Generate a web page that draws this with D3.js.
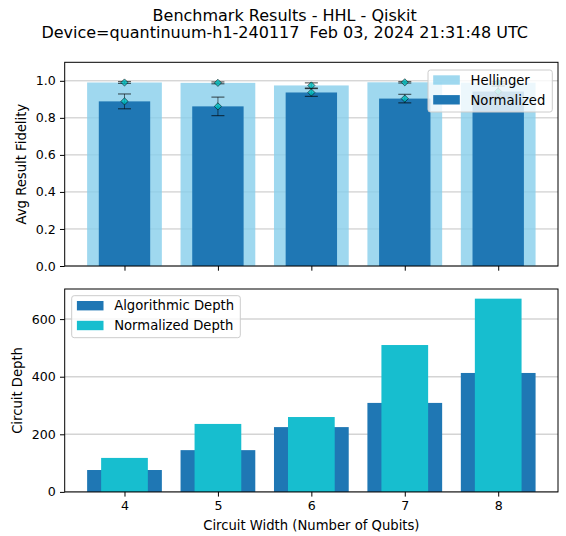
<!DOCTYPE html>
<html>
<head>
<meta charset="utf-8">
<script src="https://cdn.jsdelivr.net/npm/d3@7"></script>
<style>
  html, body { margin: 0; padding: 0; background: #fff; }
  svg { display: block; font-family: "DejaVu Sans", sans-serif; }
  text { white-space: pre; }
</style>
</head>
<body>
<svg id="chart" width="566" height="536"></svg>
<script>
// ---- data ----
const qubits = [4, 5, 6, 7, 8];
const hellingerFidelity = [0.991, 0.989, 0.975, 0.992, 0.990];
const hellingerStd = [0.005, 0.005, 0.014, 0.004, 0.005];
const normalizedFidelity = [0.889, 0.862, 0.937, 0.904, 0.942];
const normalizedStd = [0.040, 0.050, 0.021, 0.023, 0.030];
const algorithmicDepth = [76, 145, 225, 309, 413];
const normalizedDepth = [118, 236, 260, 510, 671];
const fidelityTicks = [0, 0.2, 0.4, 0.6, 0.8, 1.0];
const depthTicks = [0, 200, 400, 600];
const titleLines = ["Benchmark Results - HHL - Qiskit",
  "Device=quantinuum-h1-240117  Feb 03, 2024 21:31:48 UTC"];

const svg = d3.select("#chart");
const L = 64.7, R = 558;
const top1 = 62.3, bot1 = 266;
const top2 = 289, bot2 = 491.9;

const x = d3.scaleLinear().domain([3.36, 8.64]).range([L, R]);
const unit = x(5) - x(4);
const y1 = d3.scaleLinear().domain([0, 1.1]).range([bot1, top1]);
const y2 = d3.scaleLinear().domain([0, d3.max(normalizedDepth) * 1.05]).range([bot2, top2]);

const C0 = "#1f77b4", C9 = "#17becf", SKY = "#87ceeb";
const tickFont = 12.6, labelFont = 13.2;

// title
svg.selectAll("text.title").data(titleLines).enter().append("text")
  .attr("x", 284.7).attr("y", (d, i) => 21 + i * 17.2)
  .attr("text-anchor", "middle").attr("font-size", 16).attr("fill", "#000")
  .attr("xml:space", "preserve")
  .text(d => d);

function drawGrid(g, y, ticks, color, width) {
  g.selectAll("line.grid").data(ticks).enter().append("line")
    .attr("x1", L).attr("x2", R)
    .attr("y1", d => y(d)).attr("y2", d => y(d))
    .attr("stroke", color).attr("stroke-width", width);
}

function drawAxes(g, y, ticks, fmt, top, bot, showXLabels) {
  const ay = g.append("g").attr("transform", `translate(${L},0)`)
    .call(d3.axisLeft(y).tickValues(ticks).tickFormat(fmt).tickSize(4.7).tickPadding(4.2));
  ay.select(".domain").remove();
  ay.selectAll("text").attr("font-size", tickFont).attr("fill", "#000").attr("font-family", "DejaVu Sans");
  ay.selectAll("line").attr("stroke", "#000").attr("stroke-width", 1);
  const ax = g.append("g").attr("transform", `translate(0,${bot})`)
    .call(d3.axisBottom(x).tickValues(qubits).tickFormat(showXLabels ? d3.format("d") : "").tickSize(4.7).tickPadding(4.5));
  ax.select(".domain").remove();
  ax.selectAll("text").attr("font-size", tickFont).attr("fill", "#000").attr("font-family", "DejaVu Sans");
  ax.selectAll("line").attr("stroke", "#000").attr("stroke-width", 1);
  g.append("rect").attr("x", L).attr("y", top).attr("width", R - L).attr("height", bot - top)
    .attr("fill", "none").attr("stroke", "#000").attr("stroke-width", 1);
}

function drawLegend(g, x0, y0, w, h, items) {
  const lg = g.append("g");
  lg.append("rect").attr("x", x0).attr("y", y0).attr("width", w).attr("height", h)
    .attr("rx", 2.5).attr("fill", "#fff").attr("fill-opacity", 0.8)
    .attr("stroke", "#cccccc").attr("stroke-width", 1);
  items.forEach((it, i) => {
    const cy = y0 + 10 + i * 19.8;
    lg.append("rect").attr("x", x0 + 5.2).attr("y", cy - 4.7).attr("width", 26.6).attr("height", 9.4)
      .attr("fill", it.color).attr("fill-opacity", it.opacity || 1);
    lg.append("text").attr("x", x0 + 42.5).attr("y", cy + 4.7).attr("font-size", labelFont)
      .attr("fill", "#000").text(it.label);
  });
}

// ---- top panel ----
const g1 = svg.append("g");
drawGrid(g1, y1, fidelityTicks, "#c4c4c4", 1);
g1.selectAll("rect.hell").data(qubits).enter().append("rect")
  .attr("x", d => x(d) - 0.4 * unit).attr("width", 0.8 * unit)
  .attr("y", (d, i) => y1(hellingerFidelity[i])).attr("height", (d, i) => bot1 - y1(hellingerFidelity[i]))
  .attr("fill", SKY).attr("fill-opacity", 0.8);
g1.selectAll("rect.norm").data(qubits).enter().append("rect")
  .attr("x", d => x(d) - 0.275 * unit).attr("width", 0.55 * unit)
  .attr("y", (d, i) => y1(normalizedFidelity[i])).attr("height", (d, i) => bot1 - y1(normalizedFidelity[i]))
  .attr("fill", C0);

function errorBars(g, vals, errs) {
  const eg = g.append("g");
  qubits.forEach((q, i) => {
    const cx = x(q), v = vals[i], e = errs[i];
    eg.append("line").attr("x1", cx).attr("x2", cx).attr("y1", y1(v - e)).attr("y2", y1(v + e))
      .attr("stroke", "#000").attr("stroke-opacity", 0.55).attr("stroke-width", 1);
    [v - e, v + e].forEach(c => {
      eg.append("line").attr("x1", cx - 6.5).attr("x2", cx + 6.5).attr("y1", y1(c)).attr("y2", y1(c))
        .attr("stroke", "#000").attr("stroke-opacity", 0.6).attr("stroke-width", 1.2);
    });
    const cy = y1(v), r = 3.6;
    eg.append("path").attr("d", `M${cx},${cy - r}L${cx + r},${cy}L${cx},${cy + r}L${cx - r},${cy}Z`)
      .attr("fill", "#00bfbf").attr("fill-opacity", 0.8)
      .attr("stroke", "#000").attr("stroke-opacity", 0.75).attr("stroke-width", 0.7);
  });
}
errorBars(g1, hellingerFidelity, hellingerStd);
errorBars(g1, normalizedFidelity, normalizedStd);
drawAxes(g1, y1, fidelityTicks, d3.format(".1f"), top1, bot1, false);
g1.append("text").attr("transform", `translate(26,${(top1 + bot1) / 2}) rotate(-90)`)
  .attr("text-anchor", "middle").attr("font-size", labelFont).text("Avg Result Fidelity");
drawLegend(g1, 428, 70, 124.3, 42, [
  { label: "Hellinger", color: SKY, opacity: 0.8 },
  { label: "Normalized", color: C0 }
]);

// ---- bottom panel ----
const g2 = svg.append("g");
drawGrid(g2, y2, depthTicks, "#d4d4d4", 1.5);
g2.selectAll("rect.algo").data(qubits).enter().append("rect")
  .attr("x", d => x(d) - 0.4 * unit).attr("width", 0.8 * unit)
  .attr("y", (d, i) => y2(algorithmicDepth[i])).attr("height", (d, i) => bot2 - y2(algorithmicDepth[i]))
  .attr("fill", C0);
g2.selectAll("rect.ndep").data(qubits).enter().append("rect")
  .attr("x", d => x(d) - 0.25 * unit).attr("width", 0.5 * unit)
  .attr("y", (d, i) => y2(normalizedDepth[i])).attr("height", (d, i) => bot2 - y2(normalizedDepth[i]))
  .attr("fill", C9);
drawAxes(g2, y2, depthTicks, d3.format("d"), top2, bot2, true);
g2.append("text").attr("transform", `translate(21.5,${(top2 + bot2) / 2}) rotate(-90)`)
  .attr("text-anchor", "middle").attr("font-size", labelFont).text("Circuit Depth");
g2.append("text").attr("x", (L + R) / 2).attr("y", 530).attr("text-anchor", "middle")
  .attr("font-size", labelFont).text("Circuit Width (Number of Qubits)");
drawLegend(g2, 71.7, 295.7, 168.6, 42, [
  { label: "Algorithmic Depth", color: C0 },
  { label: "Normalized Depth", color: C9 }
]);
</script>
</body>
</html>
